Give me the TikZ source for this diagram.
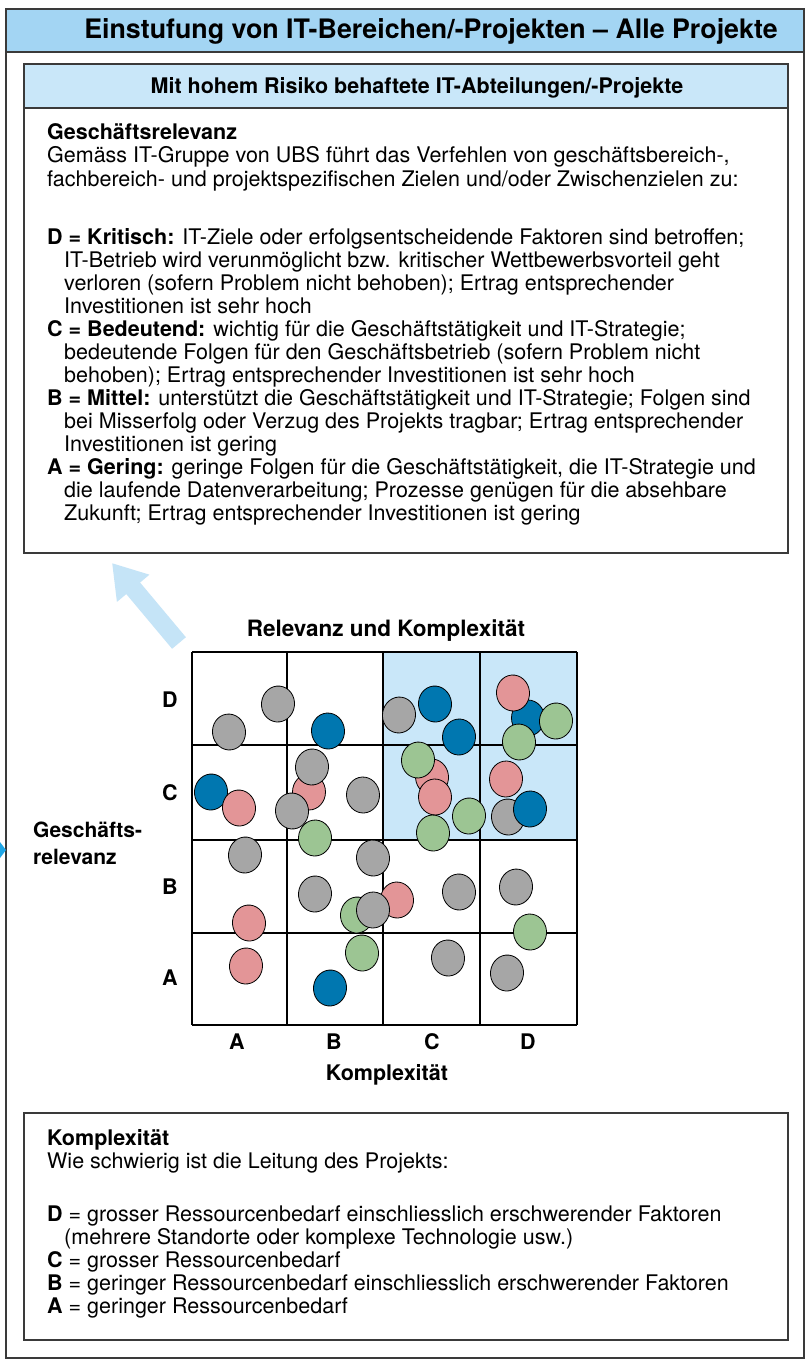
\documentclass[tikz,border=0pt]{standalone}
\usepackage{fontspec}
\setmainfont{TeX Gyre Heros}
\usetikzlibrary{arrows.meta}

\definecolor{titlebar}{HTML}{A3D5F3}
\definecolor{headfill}{HTML}{C9E7F9}
\definecolor{cellfill}{HTML}{C9E7F9}
\definecolor{arrowfill}{HTML}{C5E4F7}
\definecolor{framegray}{HTML}{3A3A3A}
\definecolor{dotgray}{HTML}{A6A6A6}
\definecolor{dotblue}{HTML}{0077B0}
\definecolor{dotpink}{HTML}{E39597}
\definecolor{dotgreen}{HTML}{9CC593}
\definecolor{markcyan}{HTML}{1EA5E5}

\begin{document}
\begin{tikzpicture}[x=1pt,y=-1pt,
  frame/.style={draw=framegray, line width=1.4pt},
  body/.style={anchor=base west, inner sep=0pt, font=\fontsize{21.5}{23}\selectfont},
  boldlbl/.style={inner sep=0pt, font=\bfseries\fontsize{21.5}{23}\selectfont},
  gridline/.style={draw=black, line width=1.3pt},
  dot/.style={draw=black, line width=0.8pt}]
\useasboundingbox (0,0) rectangle (810,1367);
\fill[white] (0,0) rectangle (810,1367);

% outer frame with title bar
\fill[titlebar] (6,9) rectangle (804,52);
\draw[frame] (6,52) -- (804,52);
\draw[frame] (6,9) rectangle (804,1358);
\node (title) at (431,39) [anchor=base, inner sep=0pt, font=\bfseries\fontsize{26.8}{30}\selectfont]
  {Einstufung von IT-Bereichen/-Projekten – Alle Projekte};

% marker at the left edge
\fill[markcyan] (0,842) -- (6,850) -- (0,858) -- cycle;

% upper box: business relevance
\fill[headfill] (24,64) rectangle (788,108);
\draw[frame] (24,108) -- (788,108);
\draw[frame] (24,64) rectangle (788,553);
\node (head) at (417,94) [anchor=base, inner sep=0pt, font=\bfseries\fontsize{21.5}{24}\selectfont]
  {Mit hohem Risiko behaftete IT-Abteilungen/-Projekte};

\node[body] (r1) at (47,140) {\textbf{Geschäftsrelevanz}};
\node[body] (r2) at (47,163) {Gemäss IT-Gruppe von UBS führt das Verfehlen von geschäftsbereich-,};
\node[body] (r3) at (47,186) {fachbereich- und projektspezifischen Zielen und/oder Zwischenzielen zu:};
\node[body] (r4) at (47,244) {\textbf{D = Kritisch:} IT-Ziele oder erfolgsentscheidende Faktoren sind betroffen;};
\node[body] (r5) at (64,267) {IT-Betrieb wird verunmöglicht bzw. kritischer Wettbewerbsvorteil geht};
\node[body] (r6) at (64,290) {verloren (sofern Problem nicht behoben); Ertrag entsprechender};
\node[body] (r7) at (64,313) {Investitionen ist sehr hoch};
\node[body] (r8) at (47,336) {\textbf{C = Bedeutend:} wichtig für die Geschäftstätigkeit und IT-Strategie;};
\node[body] (r9) at (64,359) {bedeutende Folgen für den Geschäftsbetrieb (sofern Problem nicht};
\node[body] (r10) at (64,382) {behoben); Ertrag entsprechender Investitionen ist sehr hoch};
\node[body] (r11) at (47,405) {\textbf{B = Mittel:} unterstützt die Geschäftstätigkeit und IT-Strategie; Folgen sind};
\node[body] (r12) at (64,428) {bei Misserfolg oder Verzug des Projekts tragbar; Ertrag entsprechender};
\node[body] (r13) at (64,451) {Investitionen ist gering};
\node[body] (r14) at (47,474) {\textbf{A = Gering:} geringe Folgen für die Geschäftstätigkeit, die IT-Strategie und};
\node[body] (r15) at (64,497) {die laufende Datenverarbeitung; Prozesse genügen für die absehbare};
\node[body] (r16) at (64,520) {Zukunft; Ertrag entsprechender Investitionen ist gering};

% arrow pointing up to the upper box
\coordinate (atail) at (179,643);
\coordinate (atip) at (112,563);
\draw[arrowfill, line width=18pt, -{Triangle[length=33pt,width=40pt]}] (atail) -- (atip);

% matrix
\node (mtitle) at (386,631) [inner sep=0pt, font=\bfseries\fontsize{22.5}{24}\selectfont] {Relevanz und Komplexität};
\fill[cellfill] (383,652) rectangle (577,840);
\foreach \gx in {192,287,383,480,577} \draw[gridline] (\gx,652) -- (\gx,1025);
\foreach \gy in {652,745,840,933,1025} \draw[gridline] (192,\gy) -- (577,\gy);

\node[boldlbl] (rowD) at (170,700) {D};
\node[boldlbl] (rowC) at (170,793) {C};
\node[boldlbl] (rowB) at (170,887) {B};
\node[boldlbl] (rowA) at (170,978) {A};
\node[boldlbl] (colA) at (237,1042) {A};
\node[boldlbl] (colB) at (334,1042) {B};
\node[boldlbl] (colC) at (432,1042) {C};
\node[boldlbl] (colD) at (528,1042) {D};
\node[boldlbl] (xaxis) at (387,1075) {Komplexität};
\node[boldlbl, font=\bfseries\fontsize{21}{23}\selectfont, anchor=base west] (yaxis1) at (33,837) {Geschäfts-};
\node[boldlbl, font=\bfseries\fontsize{21}{23}\selectfont, anchor=base west] (yaxis2) at (33,864) {relevanz};

% projects
\foreach \px/\py/\pc/\pr in {
  229/732/dotgray/8, 278/704/dotgray/-6, 328/731/dotblue/4,
  399/715/dotgray/-8, 435/704/dotblue/6, 459/737/dotblue/-4,
  528/718/dotblue/0, 513/693/dotpink/5, 556/721/dotgreen/-5, 519/742/dotgreen/8,
  211/792/dotblue/-6, 239/808/dotpink/6,
  309/792/dotpink/0, 312/767/dotgray/-5, 292/811/dotgray/7, 315/838/dotgreen/-4,
  363/795/dotgray/3,
  432/777/dotpink/5, 418/760/dotgreen/-8, 435/797/dotpink/3, 469/816/dotgreen/-5,
  433/833/dotgreen/4,
  506/779/dotpink/-3, 508/817/dotgray/6, 530/809/dotblue/-4,
  245/855/dotgray/-7, 373/858/dotgray/5, 315/894/dotgray/-5, 249/923/dotpink/6,
  357/915/dotgreen/-6, 397/900/dotpink/4, 373/910/dotgray/-3, 459/892/dotgray/5,
  516/887/dotgray/-8, 530/932/dotgreen/4,
  246/966/dotpink/-5, 362/953/dotgreen/6, 330/988/dotblue/-7, 448/958/dotgray/5,
  507/973/dotgray/-6}
  \draw[dot, fill=\pc, rotate around={\pr:(\px,\py)}] (\px,\py) ellipse [x radius=16.5pt, y radius=18pt];

% lower box: complexity
\draw[frame] (24,1113) rectangle (788,1340);
\node[body] (k1) at (47,1145) {\textbf{Komplexität}};
\node[body] (k2) at (47,1168) {Wie schwierig ist die Leitung des Projekts:};
\node[body] (k3) at (47,1221) {\textbf{D} = grosser Ressourcenbedarf einschliesslich erschwerender Faktoren};
\node[body] (k4) at (64,1244) {(mehrere Standorte oder komplexe Technologie usw.)};
\node[body] (k5) at (47,1267) {\textbf{C} = grosser Ressourcenbedarf};
\node[body] (k6) at (47,1290) {\textbf{B} = geringer Ressourcenbedarf einschliesslich erschwerender Faktoren};
\node[body] (k7) at (47,1313) {\textbf{A} = geringer Ressourcenbedarf};
\end{tikzpicture}
\end{document}
